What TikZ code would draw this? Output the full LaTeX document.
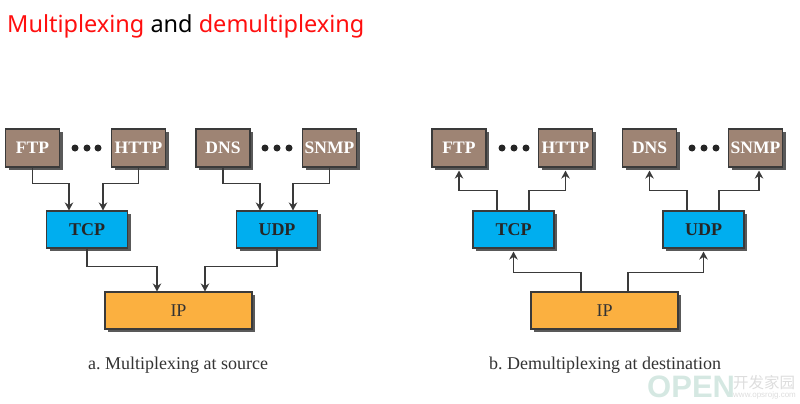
\documentclass[tikz,border=0pt]{standalone}
\usepackage{fontspec}
\setmainfont{Liberation Serif}
\newfontfamily\titlefont{Noto Sans}
\newfontfamily\markwordfont{Liberation Sans}
\newfontfamily\markfont{Noto Sans CJK SC}
\usetikzlibrary{shadows,arrows.meta}
\definecolor{appbrown}{HTML}{9E8474}
\definecolor{transblue}{HTML}{00AEEF}
\definecolor{iporange}{HTML}{FBB040}
\definecolor{edgegray}{HTML}{3A3A3A}
\definecolor{titlered}{HTML}{FF0F0F}
\definecolor{markgreen}{HTML}{D5E8E2}
\definecolor{markgray}{HTML}{DDDDDD}
\frenchspacing
\tikzset{
  layerbox/.style={draw=edgegray, line width=1.1pt, inner sep=0pt, anchor=center,
    drop shadow={shadow xshift=3pt, shadow yshift=-3pt, fill=black!72, opacity=0.9}},
  appbox/.style={layerbox, fill=appbrown, text=white, minimum width=54pt, minimum height=38pt,
    font=\fontsize{17.5}{18}\selectfont\bfseries},
  transbox/.style={layerbox, fill=transblue, text=black!85, minimum width=81pt, minimum height=37pt,
    font=\fontsize{18}{18}\selectfont\bfseries},
  ipbox/.style={layerbox, fill=iporange, text=black!80, minimum width=147pt, minimum height=37pt,
    font=\fontsize{18}{18}\selectfont},
  link/.style={draw=edgegray, line width=1.35pt, -{Stealth[length=8pt,width=8.5pt]}},
  dotmark/.style={circle, fill=black!85, inner sep=0pt, minimum size=7pt},
  caption/.style={text=black!80, font=\fontsize{18}{18}\selectfont},
}
\begin{document}
\begin{tikzpicture}[x=1pt,y=-1pt]
\useasboundingbox (0,0) rectangle (800,404);

% heading
\node[anchor=base west, inner sep=0pt, font=\titlefont\fontsize{23.5}{26}\selectfont] (heading) at (7,33)
  {\textcolor{titlered}{Multiplexing} \textcolor{black}{and} \textcolor{titlered}{demultiplexing}};

% panel a: multiplexing
\node[appbox] (aftp)  at (32.5,148) {FTP};
\node[appbox] (ahttp) at (138.5,148) {HTTP};
\node[appbox] (adns)  at (223,148) {DNS};
\node[appbox] (asnmp) at (329.5,148) {SNMP};
\node[transbox] (atcp) at (87,229.5) {TCP};
\node[transbox] (audp) at (277,229.5) {UDP};
\node[ipbox] (aip) at (178.5,310.5) {IP};
\foreach \x/\n in {75/a,87/b,98/c,265/d,277/e,289/f}
  \node[dotmark] (adot\n) at (\x,148) {};

\draw[link] (aftp.south) -- ++(0,16) -| ([xshift=-18pt]atcp.north);
\draw[link] (ahttp.south) -- ++(0,16) -| ([xshift=16pt]atcp.north);
\draw[link] (adns.south) -- ++(0,16) -| ([xshift=-17pt]audp.north);
\draw[link] (asnmp.south) -- ++(0,16) -| ([xshift=16pt]audp.north);
\draw[link] (atcp.south) -- ++(0,18) -| ([xshift=-21.5pt]aip.north);
\draw[link] (audp.south) -- ++(0,18) -| ([xshift=26.5pt]aip.north);

\node[caption, anchor=base] (acap) at (178,369) {a. Multiplexing at source};

% panel b: demultiplexing
\node[appbox] (bftp)  at (459,148) {FTP};
\node[appbox] (bhttp) at (565.5,148) {HTTP};
\node[appbox] (bdns)  at (649.5,148) {DNS};
\node[appbox] (bsnmp) at (755.5,148) {SNMP};
\node[transbox] (btcp) at (513.5,229.5) {TCP};
\node[transbox] (budp) at (703.5,229.5) {UDP};
\node[ipbox] (bip) at (604.5,310.5) {IP};
\foreach \x/\n in {502/a,514/b,526/c,692/d,704/e,716/f}
  \node[dotmark] (bdot\n) at (\x,148) {};

\draw[link] ([xshift=-16.5pt]btcp.north) -- ++(0,-20) -| ([yshift=-3pt]bftp.south);
\draw[link] ([xshift=15.5pt]btcp.north) -- ++(0,-20) -| ([yshift=-3pt]bhttp.south);
\draw[link] ([xshift=-16.5pt]budp.north) -- ++(0,-20) -| ([yshift=-3pt]bdns.south);
\draw[link] ([xshift=15.5pt]budp.north) -- ++(0,-20) -| ([xshift=3.5pt,yshift=-3pt]bsnmp.south);
\draw[link] ([xshift=-23.5pt]bip.north) -- ++(0,-19) -| ([yshift=-3pt]btcp.south);
\draw[link] ([xshift=23.5pt]bip.north) -- ++(0,-19) -| ([yshift=-3pt]budp.south);

\node[caption, anchor=base] (bcap) at (605,369) {b. Demultiplexing at destination};

% site mark, lower right corner
\node[anchor=base west, inner sep=0pt, text=markgreen, font=\markwordfont\bfseries\fontsize{31}{31}\selectfont] (markword) at (647,397) {OPEN};
\node[anchor=base west, inner sep=0pt, text=markgray, align=left] (markcjk) at (733,397)
  {{\markfont\fontsize{15.5}{16}\selectfont 开发家园}\\[-3pt]{\markwordfont\fontsize{8}{9}\selectfont www.opsrojg.com}};
\end{tikzpicture}
\end{document}
